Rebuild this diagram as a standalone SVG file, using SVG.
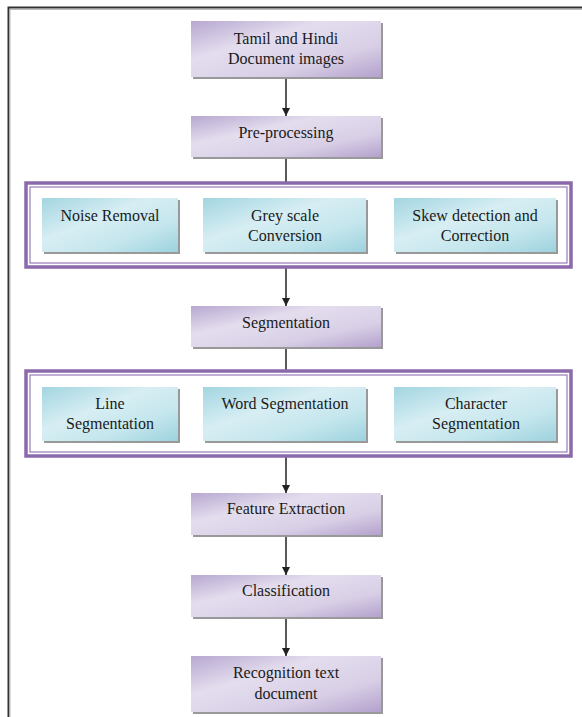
<svg xmlns="http://www.w3.org/2000/svg" width="582" height="717" viewBox="0 0 582 717">
<defs>
<linearGradient id="gp" x1="0" y1="0" x2="1" y2="1">
<stop offset="0" stop-color="#b7a8d0"/>
<stop offset="0.35" stop-color="#e4ddee"/>
<stop offset="0.7" stop-color="#d8cfe6"/>
<stop offset="1" stop-color="#b3a1cc"/>
</linearGradient>
<linearGradient id="gc" x1="0" y1="0" x2="1" y2="1">
<stop offset="0" stop-color="#a3d5e1"/>
<stop offset="0.4" stop-color="#d7eef3"/>
<stop offset="0.7" stop-color="#c4e6ed"/>
<stop offset="1" stop-color="#9dd2de"/>
</linearGradient>
<marker id="arr" markerWidth="10" markerHeight="10" refX="9" refY="5" orient="auto" markerUnits="userSpaceOnUse">
<path d="M1,1 L9,5 L1,9 Z" fill="#222"/>
</marker>
</defs>
<style>
.p{fill:url(#gp);}
.c{fill:url(#gc);}
.sh{fill:#999;}
.t{font-family:"Liberation Serif","DejaVu Serif",serif;font-size:16px;fill:#1a1a1a;text-anchor:middle;}
.ln{stroke:#222;stroke-width:1.5;fill:none;}
.go{fill:#fff;stroke:#8a6aaa;stroke-width:3.5;}
.gi{fill:none;stroke:#9a7cb8;stroke-width:1.2;}
</style>
<rect x="0" y="0" width="582" height="717" fill="#fff"/>
<path d="M8.5,717 L8.5,7.5 L582,7.5" fill="none" stroke="#333" stroke-width="2"/>
<path d="M10,717 L10,9.5 L582,9.5" fill="none" stroke="#bbb" stroke-width="1"/>

<g id="connectors">
<line class="ln" x1="286" y1="78" x2="286" y2="116" marker-end="url(#arr)"/>
<line class="ln" x1="286" y1="158" x2="286" y2="182"/>
<line class="ln" x1="286" y1="268" x2="286" y2="306" marker-end="url(#arr)"/>
<line class="ln" x1="286" y1="348" x2="286" y2="370"/>
<line class="ln" x1="286" y1="457" x2="286" y2="493" marker-end="url(#arr)"/>
<line class="ln" x1="286" y1="536" x2="286" y2="575" marker-end="url(#arr)"/>
<line class="ln" x1="286" y1="618" x2="286" y2="656" marker-end="url(#arr)"/>
</g>

<g id="n1">
<rect class="sh" x="193" y="23" width="190" height="56"/>
<rect class="p" x="191" y="21" width="190" height="56"/>
<text class="t" x="286" y="44">Tamil and Hindi</text>
<text class="t" x="286" y="64">Document images</text>
</g>
<g id="n2">
<rect class="sh" x="193" y="118" width="190" height="41"/>
<rect class="p" x="191" y="116" width="190" height="41"/>
<text class="t" x="286" y="138">Pre-processing</text>
</g>

<g id="g1">
<rect class="go" x="26" y="183" width="545" height="84"/>
<rect class="gi" x="30" y="187" width="537" height="76"/>
</g>
<g id="n3">
<rect class="sh" x="44" y="200" width="136" height="54"/>
<rect class="c" x="42" y="198" width="136" height="54"/>
<text class="t" x="110" y="221">Noise Removal</text>
</g>
<g id="n4">
<rect class="sh" x="205" y="200" width="163" height="54"/>
<rect class="c" x="203" y="198" width="163" height="54"/>
<text class="t" x="285" y="221">Grey scale</text>
<text class="t" x="285" y="241">Conversion</text>
</g>
<g id="n5">
<rect class="sh" x="396" y="200" width="162" height="54"/>
<rect class="c" x="394" y="198" width="162" height="54"/>
<text class="t" x="475" y="221">Skew detection and</text>
<text class="t" x="475" y="241">Correction</text>
</g>

<g id="n6">
<rect class="sh" x="193" y="308" width="190" height="41"/>
<rect class="p" x="191" y="306" width="190" height="41"/>
<text class="t" x="286" y="328">Segmentation</text>
</g>

<g id="g2">
<rect class="go" x="26" y="371" width="545" height="85"/>
<rect class="gi" x="30" y="375" width="537" height="77"/>
</g>
<g id="n7">
<rect class="sh" x="44" y="389" width="136" height="54"/>
<rect class="c" x="42" y="387" width="136" height="54"/>
<text class="t" x="110" y="409">Line</text>
<text class="t" x="110" y="429">Segmentation</text>
</g>
<g id="n8">
<rect class="sh" x="205" y="389" width="163" height="54"/>
<rect class="c" x="203" y="387" width="163" height="54"/>
<text class="t" x="285" y="409">Word Segmentation</text>
</g>
<g id="n9">
<rect class="sh" x="396" y="389" width="162" height="54"/>
<rect class="c" x="394" y="387" width="162" height="54"/>
<text class="t" x="476" y="409">Character</text>
<text class="t" x="476" y="429">Segmentation</text>
</g>

<g id="n10">
<rect class="sh" x="193" y="495" width="190" height="42"/>
<rect class="p" x="191" y="493" width="190" height="42"/>
<text class="t" x="286" y="514">Feature Extraction</text>
</g>
<g id="n11">
<rect class="sh" x="193" y="577" width="190" height="42"/>
<rect class="p" x="191" y="575" width="190" height="42"/>
<text class="t" x="286" y="596">Classification</text>
</g>
<g id="n12">
<rect class="sh" x="193" y="658" width="190" height="56"/>
<rect class="p" x="191" y="656" width="190" height="56"/>
<text class="t" x="286" y="678">Recognition text</text>
<text class="t" x="286" y="699">document</text>
</g>
</svg>
